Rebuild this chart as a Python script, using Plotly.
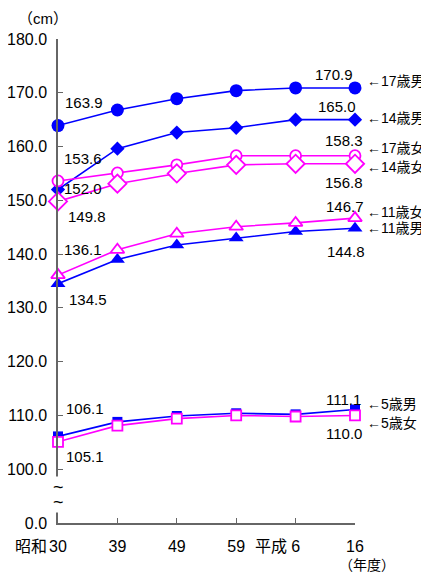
import plotly.graph_objects as go

years = ["30", "39", "49", "59", "6", "16"]
era_labels = ["昭和", "平成"]

boys17 = [163.9, 166.8, 168.9, 170.4, 170.9, 170.9]
boys14 = [152.0, 159.6, 162.6, 163.5, 165.0, 165.0]
girls17 = [153.6, 155.1, 156.6, 158.3, 158.3, 158.3]
girls14 = [149.8, 153.1, 155.0, 156.6, 156.8, 156.8]
girls11 = [136.1, 140.8, 143.8, 145.1, 145.8, 146.7]
boys11 = [134.5, 139.0, 141.7, 143.0, 144.2, 144.8]
boys5 = [106.1, 108.8, 109.9, 110.4, 110.2, 111.1]
girls5 = [105.1, 108.1, 109.4, 110.0, 109.8, 110.0]

ytick_vals = [90, 100, 110, 120, 130, 140, 150, 160, 170, 180]
ytick_text = ["0.0", "100.0", "110.0", "120.0", "130.0", "140.0", "150.0", "160.0", "170.0", "180.0"]

BLUE = "#0000FF"
MAG = "#FF00FF"
FONT = "Liberation Sans, Noto Sans CJK JP, sans-serif"

x = list(range(len(years)))

# name, values, color, symbol, size, filled, first-label shift, last-label shift, name-label yshift
series = [
    ("17歳男", boys17, BLUE, "circle", 13, True, (26, 23), (-21, 13), 7),
    ("14歳男", boys14, BLUE, "diamond", 11, True, (25, 1), (-18, 13), 2),
    ("11歳男", boys11, BLUE, "triangle-up", 13, True, (30, -16), (-9, -23), 0),
    ("5歳男", boys5, BLUE, "square", 10, True, (27, 28), (-12, 10), 6),
    ("17歳女", girls17, MAG, "circle", 11, False, (25, 22), (-11, 15), 8),
    ("14歳女", girls14, MAG, "diamond", 14, False, (29, -15), (-11, -19), -3),
    ("11歳女", girls11, MAG, "triangle-up", 12, False, (25, 26), (-10, 12), 6),
    ("5歳女", girls5, MAG, "square", 10, False, (27, -15), (-11, -18), -8),
]

fig = go.Figure()
annotations = []
for name, vals, col, sym, size, filled, s0, s1, sn in series:
    fig.add_trace(go.Scatter(
        x=x, y=vals, mode="lines+markers", name=name,
        line=dict(color=col, width=1.6),
        marker=dict(symbol=sym, size=size,
                    color=col if filled else "white",
                    line=dict(color=col, width=0 if filled else 1.8)),
        cliponaxis=False, showlegend=False,
    ))
    annotations.append(dict(x=x[0], y=vals[0], text=f"{vals[0]:.1f}", showarrow=False,
                            xshift=s0[0], yshift=s0[1], xanchor="center", yanchor="middle",
                            font=dict(size=15, color="black", family=FONT)))
    annotations.append(dict(x=x[-1], y=vals[-1], text=f"{vals[-1]:.1f}", showarrow=False,
                            xshift=s1[0], yshift=s1[1], xanchor="center", yanchor="middle",
                            font=dict(size=15, color="black", family=FONT)))
    annotations.append(dict(x=x[-1], y=vals[-1], text="←" + name, showarrow=False,
                            xshift=10, yshift=sn, xanchor="left", yanchor="middle",
                            font=dict(size=14, color="black", family=FONT)))

# era prefixes
annotations.append(dict(x=0, y=0, xref="x", yref="paper", text=era_labels[0], showarrow=False,
                        xanchor="right", yanchor="middle", xshift=-9, yshift=-23,
                        font=dict(size=16, color="black", family=FONT)))
annotations.append(dict(x=4, y=0, xref="x", yref="paper", text=era_labels[1], showarrow=False,
                        xanchor="right", yanchor="middle", xshift=-7, yshift=-23,
                        font=dict(size=16, color="black", family=FONT)))
annotations.append(dict(x=5, y=0, xref="x", yref="paper", text="（年度）", showarrow=False,
                        xanchor="center", yanchor="middle", xshift=12, yshift=-42,
                        font=dict(size=14, color="black", family=FONT)))
annotations.append(dict(x=0, y=1, xref="paper", yref="paper", text="（cm）", showarrow=False,
                        xanchor="center", yanchor="middle", xshift=-15, yshift=21,
                        font=dict(size=15, color="black", family=FONT)))
# axis break marks
for yv in [96.7, 93.9]:
    annotations.append(dict(x=0, y=yv, text="~", showarrow=False, xanchor="center", yanchor="middle",
                            bgcolor="white", borderpad=0,
                            font=dict(size=18, color="black", family=FONT)))

# the page body adds an 8px offset; plot area is placed to compensate
fig.update_layout(
    width=429, height=575,
    margin=dict(l=50, r=82, t=31, b=60, autoexpand=False),
    paper_bgcolor="white", plot_bgcolor="white",
    annotations=annotations,
    xaxis=dict(range=[0, 5], tickvals=x, ticktext=years, showgrid=False, zeroline=False,
               showline=True, linecolor="#666666", linewidth=1.5, automargin=False,
               ticks="inside", ticklen=5, tickcolor="#666666", ticklabelstandoff=8,
               tickfont=dict(size=16, color="black", family=FONT)),
    yaxis=dict(range=[90, 180], tickvals=ytick_vals, ticktext=ytick_text, showgrid=False,
               zeroline=False, showline=True, linecolor="#666666", linewidth=1.5, automargin=False,
               ticks="inside", ticklen=5, tickcolor="#666666", ticklabelstandoff=6,
               tickfont=dict(size=16, color="black", family=FONT)),
)

fig.write_html("out.html")
